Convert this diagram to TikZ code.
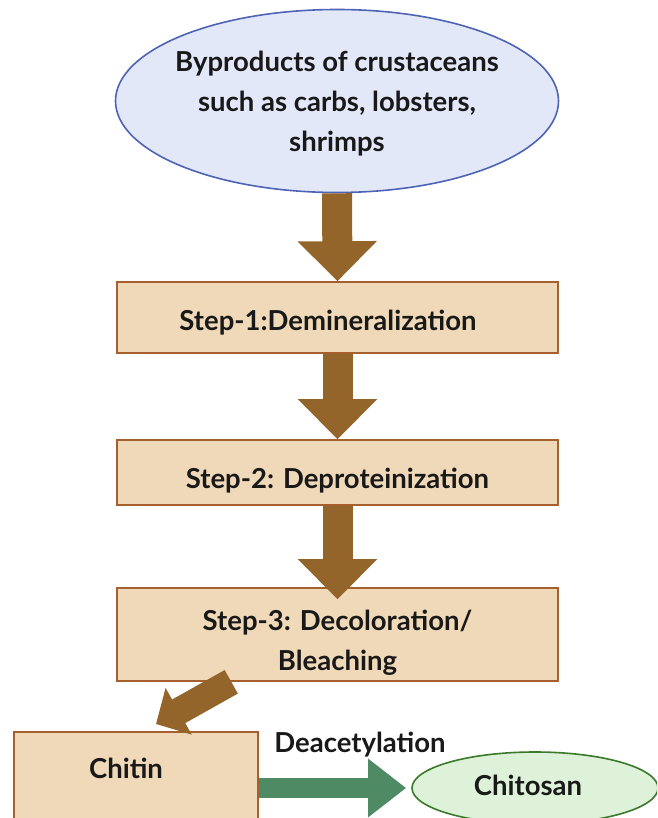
\documentclass[tikz,border=0pt]{standalone}
\usepackage{fontspec}
\setmainfont{Lato}
\usetikzlibrary{arrows.meta,shapes.geometric,calc}
\definecolor{brarrow}{HTML}{93652A}
\definecolor{boxfill}{HTML}{EFD9B8}
\definecolor{boxline}{HTML}{A5602E}
\definecolor{ellfill}{HTML}{E3E8F8}
\definecolor{ellline}{HTML}{4D63B5}
\definecolor{grarrow}{HTML}{4E8A63}
\definecolor{gfill}{HTML}{DDF2D8}
\definecolor{gline}{HTML}{3A7A2A}
\tikzset{
  txt/.style={font=\fontsize{27.5}{40}\selectfont\bfseries, text=black!90},
  stepbox/.style={rectangle, draw=boxline, line width=1.6pt, fill=boxfill, minimum width=441pt, inner sep=0pt},
  barrow/.style={draw=brarrow, line width=30pt, -{Triangle[width=77pt,length=40pt]}},
  darrow/.style={draw=brarrow, line width=27pt, -{Triangle[width=52pt,length=26pt]}},
  garrow/.style={draw=grarrow, line width=20pt, -{Triangle[width=56pt,length=38pt]}}
}
\begin{document}
\begin{tikzpicture}[x=1pt,y=-1pt]
\useasboundingbox (0,0) rectangle (657,818);
\begin{scope}
\clip (0,0) rectangle (657,818);
\node[ellipse, draw=ellline, line width=1.6pt, fill=ellfill, minimum width=443pt, minimum height=183pt, inner sep=0pt] (src) at (337,101) {};
\node[txt, align=center] (srctxt) at (337,104) {Byproducts of crustaceans\\such as carbs, lobsters,\\shrimps};
\node[stepbox, minimum height=71pt] (s1) at (337.5,317.5) {};
\node[txt] (s1txt) at (328,323) {Step-1:Demineralization};
\node[stepbox, minimum height=65pt] (s2) at (337.5,472.5) {};
\node[txt] (s2txt) at (337.5,481) {Step-2: Deproteinization};
\node[stepbox, minimum height=93pt] (s3) at (337.5,634.5) {};
\node[txt, align=center] (s3txt) at (337.5,643) {Step-3: Decoloration/\\Bleaching};
\node[rectangle, draw=boxline, line width=1.6pt, fill=boxfill, minimum width=244pt, minimum height=112pt, inner sep=0pt] (chitin) at (136,788) {};
\node[txt] (chitintxt) at (126,768) {Chitin};
\node[ellipse, draw=gline, line width=1.6pt, fill=gfill, minimum width=246pt, minimum height=72pt, inner sep=0pt] (chitosan) at (535,788) {};
\node[txt] (chitosantxt) at (528,785) {Chitosan};
\node[txt] (deac) at (360,745) {Deacetylation};
\draw[barrow] (src.south) -- (s1.north);
\draw[barrow] (s1.south) -- (s2.north);
\draw[barrow, shorten >=-12pt] (s2.south) -- (s3.north);
\coordinate (dstart) at ($(s3.south west)!0.26!(s3.south east)$);
\coordinate (dend) at (156,724);
\draw[darrow] (dstart) -- (dend);
\draw[garrow, shorten >=5pt] (chitin.east) -- (chitosan.west);
\end{scope}
\end{tikzpicture}
\end{document}
